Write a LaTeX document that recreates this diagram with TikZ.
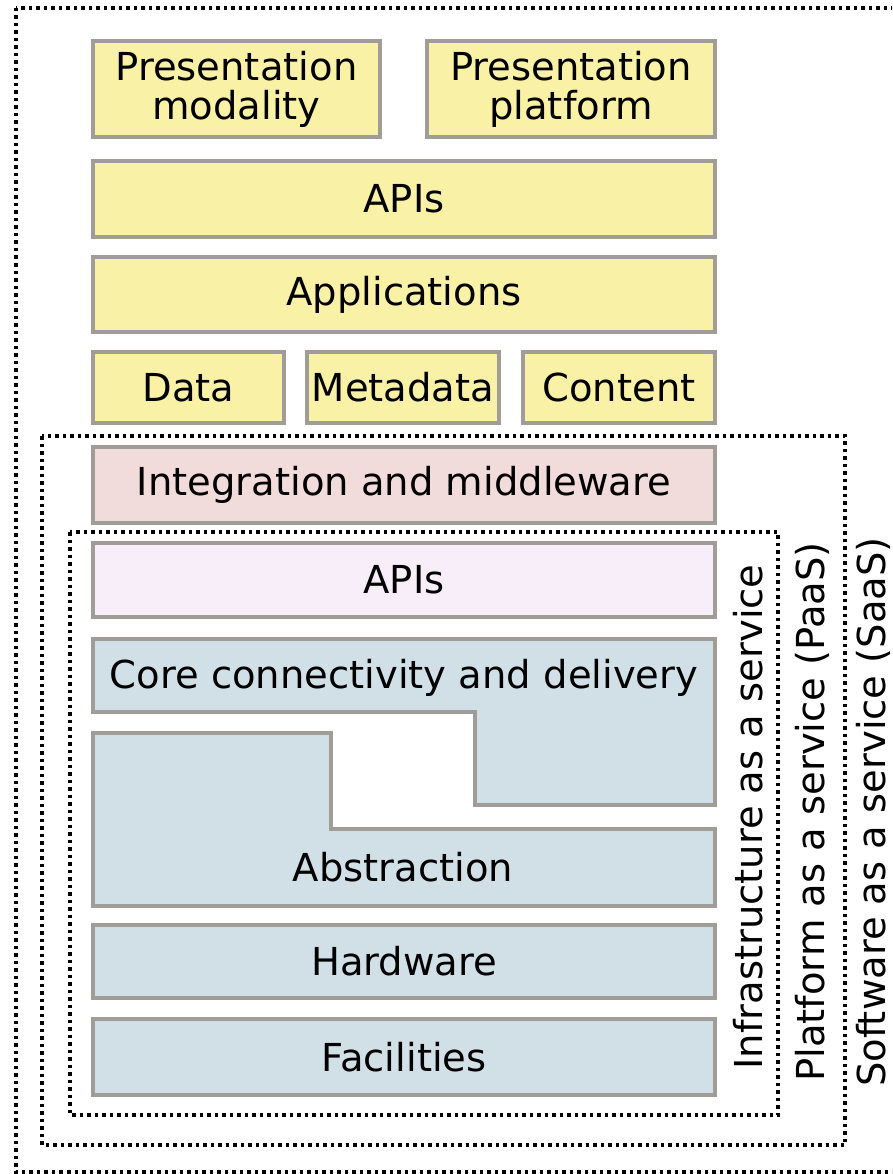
\documentclass[tikz,border=0pt]{standalone}
\usepackage{fontspec}
\setmainfont{DejaVu Sans}
\definecolor{yel}{HTML}{F9F1A6}
\definecolor{bord}{HTML}{A09C98}
\definecolor{blu}{HTML}{D1E0E6}
\definecolor{pnk}{HTML}{F2DCDB}
\definecolor{lav}{HTML}{F8EEFA}
\tikzset{
  txt/.style={font=\fontsize{38.5}{39}\selectfont},
  box/.style={draw=bord, line width=4pt, inner sep=0pt, txt, align=center},
  ybox/.style={box, fill=yel},
  bbox/.style={box, fill=blu},
  frame/.style={draw=black, line width=3.5pt, dash pattern=on 3.5pt off 4pt},
  lbl/.style={txt, rotate=90, inner sep=0pt}
}
\begin{document}
\begin{tikzpicture}[x=1pt,y=-1pt]
\useasboundingbox (0,0) rectangle (892,1174);
\clip (0,0) rectangle (892,1174);
% outer frames
\draw[frame] (16,8) rectangle (930,1172);
\draw[frame] (42,436) rectangle (845,1145);
\draw[frame] (70,532) rectangle (778,1115);
% top boxes
\node[ybox, minimum width=287pt, minimum height=96pt] (pm) at (236.5,89) {Presentation\\modality};
\node[ybox, minimum width=288pt, minimum height=96pt] (pp) at (571,89) {Presentation\\platform};
\node[ybox, minimum width=622pt, minimum height=76pt] (api1) at (404,199) {APIs};
\node[ybox, minimum width=622pt, minimum height=75pt] (app) at (404,294.5) {Applications};
\node[ybox, minimum width=191pt, minimum height=71pt] (data) at (188.5,387.5) {Data};
\node[ybox, minimum width=192pt, minimum height=71pt] (meta) at (403,387.5) {Metadata};
\node[ybox, minimum width=192pt, minimum height=71pt] (cont) at (619,387.5) {Content};
\node[box, fill=pnk, minimum width=622pt, minimum height=76pt] (integ) at (404,485) {Integration and middleware};
\node[box, fill=lav, minimum width=622pt, minimum height=74pt] (api2) at (404,580) {APIs};
% core and abstraction
\draw[draw=bord, line width=4pt, fill=blu] (93,639) -- (715,639) -- (715,805) -- (475,805) -- (475,712) -- (93,712) -- cycle;
\node[txt, inner sep=0pt] (core) at (404,678) {Core connectivity and delivery};
\draw[draw=bord, line width=4pt, fill=blu] (93,733) -- (331,733) -- (331,829) -- (715,829) -- (715,906) -- (93,906) -- cycle;
\node[txt, inner sep=0pt] (abs) at (403,867) {Abstraction};
\node[bbox, minimum width=622pt, minimum height=73pt] (hw) at (404,961.5) {Hardware};
\node[bbox, minimum width=622pt, minimum height=76pt] (fac) at (404,1057) {Facilities};
% side labels
\node[lbl] (iaas) at (748,817) {Infrastructure as a service};
\node[lbl] (paas) at (812,812) {Platform as a service (PaaS)};
\node[lbl] (saas) at (873,812) {Software as a service (SaaS)};
\end{tikzpicture}
\end{document}
